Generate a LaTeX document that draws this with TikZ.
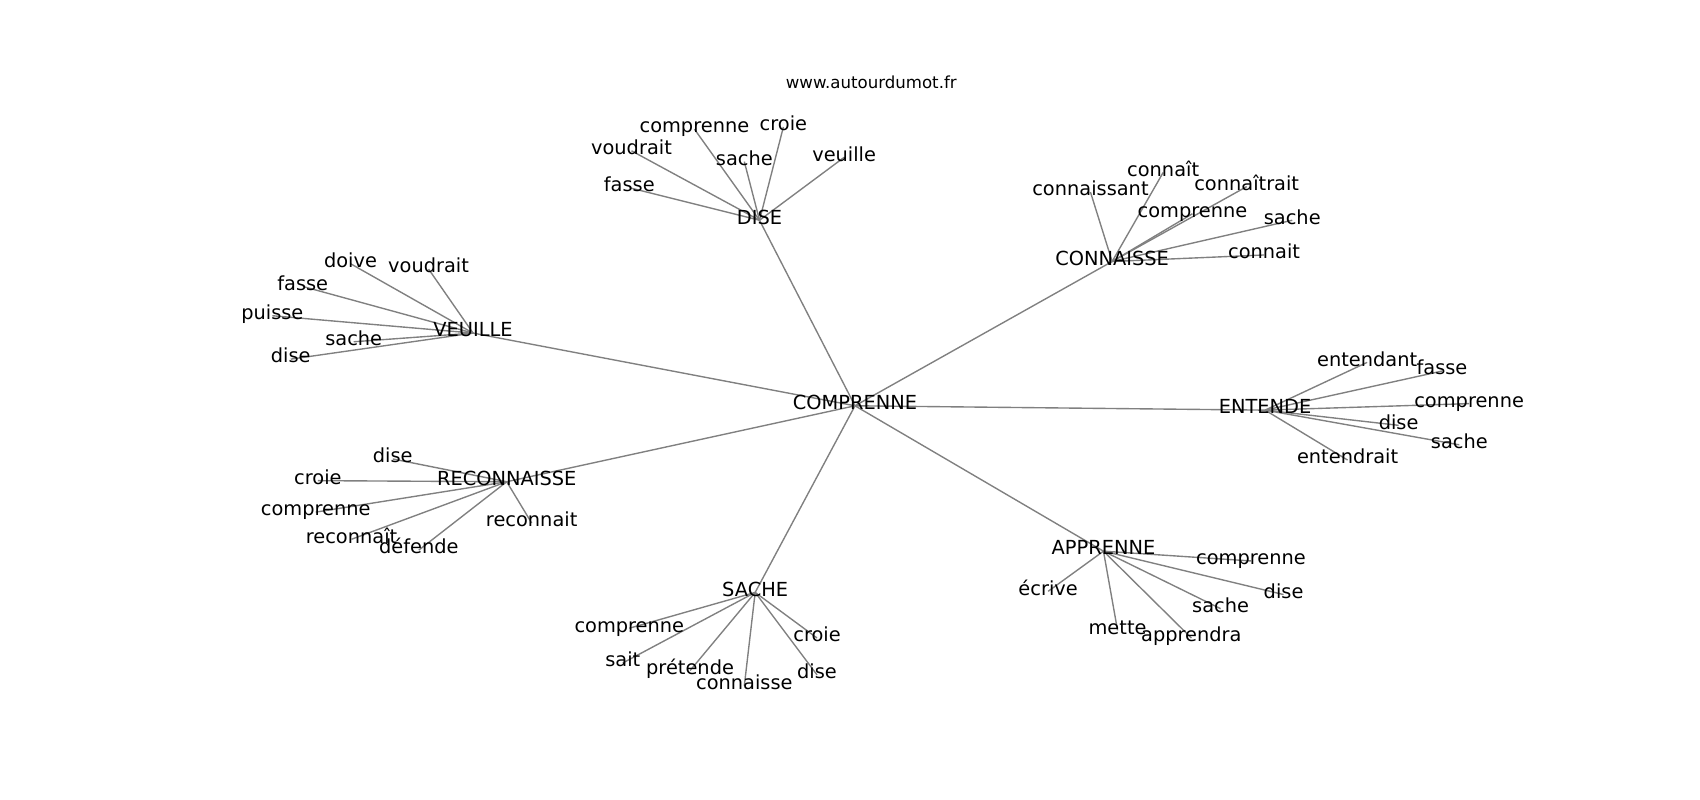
\documentclass[tikz,border=0pt]{standalone}
\usepackage{fontspec}
\setmainfont{DejaVu Sans}
\usepackage{tikz}
\usetikzlibrary{backgrounds}
\definecolor{edgegray}{HTML}{808080}

\begin{document}
\begin{tikzpicture}[x=0.01085in, y=-0.01085in, font=\fontsize{14}{16}\selectfont]
    \tikzstyle{word} = [inner sep=0pt, text height=0.76em, text depth=0.21em]
    \tikzstyle{link} = [draw=edgegray, line width=1pt]

    \useasboundingbox (0,-2) rectangle (1566.8,735.3);

    \node (title) [word, font=\fontsize{12}{14}\selectfont] at (803,76) {www.autourdumot.fr};

    \node (comprenne)   [word] at (788,372)  {COMPRENNE};
    \node (dise)        [word] at (700,201)  {DISE};
    \node (connaisse)   [word] at (1025,239) {CONNAISSE};
    \node (veuille)     [word] at (436,305)  {VEUILLE};
    \node (entende)     [word] at (1166,376) {ENTENDE};
    \node (reconnaisse) [word] at (467,442)  {RECONNAISSE};
    \node (sache)       [word] at (696,544)  {SACHE};
    \node (apprenne)    [word] at (1017,506) {APPRENNE};

    % DISE
    \node (di-comprenne) [word] at (640,117) {comprenne};
    \node (di-croie)     [word] at (722,115) {croie};
    \node (di-voudrait)  [word] at (582,137) {voudrait};
    \node (di-sache)     [word] at (686,147) {sache};
    \node (di-veuille)   [word] at (778,143) {veuille};
    \node (di-fasse)     [word] at (580,171) {fasse};

    % CONNAISSE
    \node (co-connait)     [word] at (1072,157) {connaît};
    \node (co-connaissant) [word] at (1005,175) {connaissant};
    \node (co-connaitrait) [word] at (1149,170) {connaîtrait};
    \node (co-comprenne)   [word] at (1099,195) {comprenne};
    \node (co-sache)       [word] at (1191,201) {sache};
    \node (co-connait2)    [word] at (1165,233) {connait};

    % VEUILLE
    \node (ve-doive)    [word] at (323,241) {doive};
    \node (ve-voudrait) [word] at (395,246) {voudrait};
    \node (ve-fasse)    [word] at (279,262) {fasse};
    \node (ve-puisse)   [word] at (251,289) {puisse};
    \node (ve-sache)    [word] at (326,313) {sache};
    \node (ve-dise)     [word] at (268,329) {dise};

    % ENTENDE
    \node (en-entendant)  [word] at (1260,332) {entendant};
    \node (en-fasse)      [word] at (1329,340) {fasse};
    \node (en-comprenne)  [word] at (1354,370) {comprenne};
    \node (en-dise)       [word] at (1289,390) {dise};
    \node (en-sache)      [word] at (1345,408) {sache};
    \node (en-entendrait) [word] at (1242,422) {entendrait};

    % RECONNAISSE
    \node (re-dise)        [word] at (362,421) {dise};
    \node (re-croie)       [word] at (293,441) {croie};
    \node (re-comprenne)   [word] at (291,470) {comprenne};
    \node (re-reconnait)   [word] at (324,495) {reconnaît};
    \node (re-defende)     [word] at (386,505) {défende};
    \node (re-reconnait2)  [word] at (490,480) {reconnait};

    % SACHE
    \node (sa-comprenne) [word] at (580,577) {comprenne};
    \node (sa-croie)     [word] at (753,586) {croie};
    \node (sa-sait)      [word] at (574,609) {sait};
    \node (sa-pretende)  [word] at (636,616) {prétende};
    \node (sa-connaisse) [word] at (686,630) {connaisse};
    \node (sa-dise)      [word] at (753,620) {dise};

    % APPRENNE
    \node (ap-comprenne) [word] at (1153,515) {comprenne};
    \node (ap-ecrive)    [word] at (966,543)  {écrive};
    \node (ap-dise)      [word] at (1183,546) {dise};
    \node (ap-sache)     [word] at (1125,559) {sache};
    \node (ap-mette)     [word] at (1030,579) {mette};
    \node (ap-apprendra) [word] at (1098,586) {apprendra};

    \begin{scope}[on background layer]
      \foreach \hub in {dise, connaisse, veuille, entende, reconnaisse, sache, apprenne}
        \draw [link] (comprenne.center) -- (\hub.center);
      \foreach \w in {comprenne, croie, voudrait, sache, veuille, fasse}
        \draw [link] (dise.center) -- (di-\w.center);
      \foreach \w in {connait, connaissant, connaitrait, comprenne, sache, connait2}
        \draw [link] (connaisse.center) -- (co-\w.center);
      \foreach \w in {doive, voudrait, fasse, puisse, sache, dise}
        \draw [link] (veuille.center) -- (ve-\w.center);
      \foreach \w in {entendant, fasse, comprenne, dise, sache, entendrait}
        \draw [link] (entende.center) -- (en-\w.center);
      \foreach \w in {dise, croie, comprenne, reconnait, defende, reconnait2}
        \draw [link] (reconnaisse.center) -- (re-\w.center);
      \foreach \w in {comprenne, croie, sait, pretende, connaisse, dise}
        \draw [link] (sache.center) -- (sa-\w.center);
      \foreach \w in {comprenne, ecrive, dise, sache, mette, apprendra}
        \draw [link] (apprenne.center) -- (ap-\w.center);
    \end{scope}
\end{tikzpicture}
\end{document}
